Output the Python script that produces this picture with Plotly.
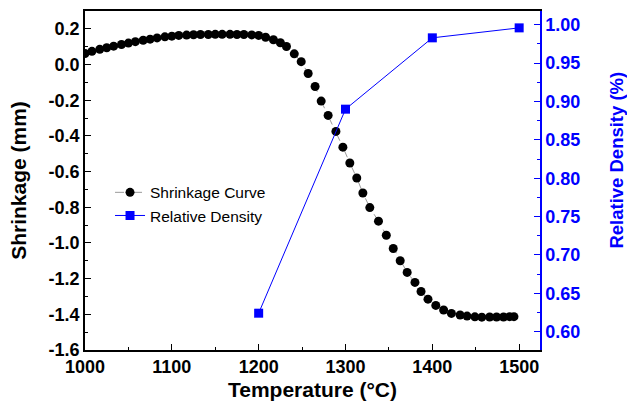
import plotly.graph_objects as go

# ---- data ----
shrink_temp = [1000, 1008, 1017, 1025, 1033, 1042, 1050, 1058, 1067, 1075,
               1083, 1092, 1100, 1108, 1117, 1125, 1133, 1142, 1150, 1158,
               1167, 1175, 1183, 1192, 1200, 1208, 1217, 1225, 1232, 1241,
               1249, 1257, 1265, 1272, 1280, 1289, 1297, 1305, 1313, 1320,
               1328, 1338, 1347, 1355, 1363, 1371, 1380, 1387, 1395, 1404,
               1413, 1422, 1432, 1440, 1449, 1457, 1466, 1474, 1482, 1489, 1494]
shrink_val = [0.062, 0.074, 0.085, 0.094, 0.103, 0.112, 0.120, 0.128, 0.136, 0.142,
              0.149, 0.155, 0.159, 0.163, 0.165, 0.167, 0.168, 0.168, 0.169, 0.169,
              0.169, 0.168, 0.168, 0.166, 0.163, 0.153, 0.139, 0.122, 0.101, 0.060,
              0.016, -0.050, -0.123, -0.205, -0.285, -0.375, -0.463, -0.552, -0.636, -0.720,
              -0.802, -0.878, -0.957, -1.031, -1.100, -1.165, -1.221, -1.272, -1.315, -1.350,
              -1.376, -1.395, -1.404, -1.410, -1.414, -1.416, -1.415, -1.415, -1.415, -1.413, -1.413]

dens_temp = [1200, 1300, 1400, 1500]
dens_val = [0.624, 0.890, 0.983, 0.996]

x_ticks = [1000, 1100, 1200, 1300, 1400, 1500]
x_ticktext = ["1000", "1100", "1200", "1300", "1400", "1500"]
y_ticks = [0.2, 0.0, -0.2, -0.4, -0.6, -0.8, -1.0, -1.2, -1.4, -1.6]
y_ticktext = ["0.2", "0.0", "-0.2", "-0.4", "-0.6", "-0.8", "-1.0", "-1.2", "-1.4", "-1.6"]
y2_ticks = [0.60, 0.65, 0.70, 0.75, 0.80, 0.85, 0.90, 0.95, 1.00]
y2_ticktext = ["0.60", "0.65", "0.70", "0.75", "0.80", "0.85", "0.90", "0.95", "1.00"]

FONT = "Liberation Sans, Arial, sans-serif"
BLUE = "#0000FF"

fig = go.Figure()
fig.add_trace(go.Scatter(
    x=shrink_temp, y=shrink_val, name="Shrinkage Curve",
    mode="lines+markers",
    line=dict(color="#9a9a9a", width=1, dash="dash"),
    marker=dict(symbol="circle", size=9, color="black"),
))
fig.add_trace(go.Scatter(
    x=dens_temp, y=dens_val, name="Relative Density", yaxis="y2",
    mode="lines+markers",
    line=dict(color=BLUE, width=1),
    marker=dict(symbol="square", size=9, color=BLUE),
))

fig.update_layout(
    width=627, height=401,
    margin=dict(l=85, r=87, t=11, b=51, autoexpand=False),
    paper_bgcolor="white", plot_bgcolor="white",
    font=dict(family=FONT, color="black"),
    showlegend=True,
    legend=dict(x=0.055, y=0.514, xanchor="left", yanchor="top",
                bgcolor="rgba(0,0,0,0)", font=dict(size=15.5, family=FONT),
                tracegroupgap=0),
    xaxis=dict(
        range=[1000, 1524], tickmode="array", tickvals=x_ticks, ticktext=x_ticktext,
        ticks="inside", ticklen=6, tickwidth=1.3, tickcolor="black",
        minor=dict(dtick=50, tick0=1000, ticks="inside", ticklen=3, tickcolor="black", tickwidth=1.3),
        showline=True, linecolor="black", linewidth=1.5, mirror=True,
        showgrid=False, zeroline=False, automargin=False,
        tickfont=dict(size=18, family=FONT, weight="bold", color="black"),
        title=dict(text="Temperature (°C)", font=dict(size=21, family=FONT, weight="bold", color="black"),
                   standoff=9),
    ),
    yaxis=dict(
        range=[-1.6, 0.3], tickmode="array", tickvals=y_ticks, ticktext=y_ticktext,
        ticks="inside", ticklen=6, tickwidth=1.3, tickcolor="black",
        minor=dict(dtick=0.1, tick0=-1.6, ticks="inside", ticklen=3, tickcolor="black", tickwidth=1.3),
        showline=True, linecolor="black", linewidth=1.5, mirror=False,
        showgrid=False, zeroline=False, automargin=False,
        tickfont=dict(size=18, family=FONT, weight="bold", color="black"),
        title=dict(text="Shrinkage (mm)", font=dict(size=21, family=FONT, weight="bold", color="black"),
                   standoff=16),
    ),
    yaxis2=dict(
        overlaying="y", side="right",
        range=[0.576, 1.018], tickmode="array", tickvals=y2_ticks, ticktext=y2_ticktext,
        ticks="inside", ticklen=6, tickwidth=1.3, tickcolor=BLUE,
        minor=dict(dtick=0.025, tick0=0.6, ticks="inside", ticklen=3, tickcolor=BLUE, tickwidth=1.3),
        showline=True, linecolor=BLUE, linewidth=1.5,
        showgrid=False, zeroline=False, automargin=False,
        tickfont=dict(size=18, family=FONT, weight="bold", color=BLUE),
    ),
    annotations=[dict(
        text="Relative Density (%)", textangle=-90,
        xref="paper", yref="paper", x=1.168, y=0.56,
        xanchor="center", yanchor="middle", showarrow=False,
        font=dict(size=18.5, family=FONT, weight="bold", color=BLUE),
    )],
)

fig.write_html("out.html")
